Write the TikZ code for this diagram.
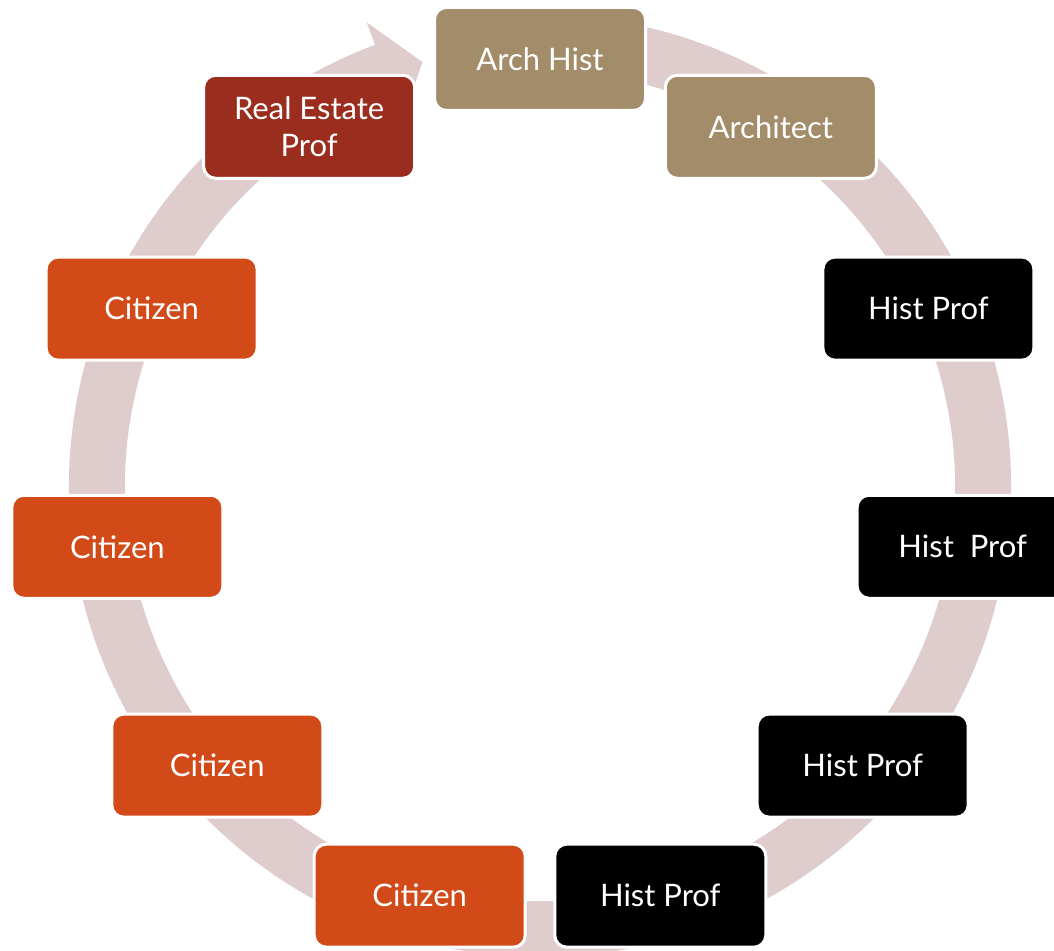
\documentclass[tikz,border=0pt]{standalone}
\usepackage{fontspec}
\setmainfont{Lato}
\definecolor{ringpink}{HTML}{DFCDCE}
\definecolor{archtan}{HTML}{A38C69}
\definecolor{estatered}{HTML}{9B2D1F}
\definecolor{citizenorange}{HTML}{D14A17}
\tikzset{
  stage/.style={rounded corners=12pt, draw=white, line width=3pt,
    minimum width=211pt, minimum height=103pt, inner sep=0pt,
    text=white, align=center, font=\fontsize{31}{37}\selectfont},
}
\begin{document}
\begin{tikzpicture}[x=1pt,y=1pt]
  % the frame
  \useasboundingbox (-540,-464) rectangle (514,486);
  % the ring
  \fill[ringpink] (80:471) arc[start angle=80, end angle=-249.5, radius=471]
    -- (110.5:495) -- (105.5:440) -- (110.5:391) -- (110.5:415)
    arc[start angle=110.5, end angle=440, radius=415] -- cycle;
  % the stages
  \foreach \i/\name/\txt/\col in {
      0/archhist/Arch Hist/archtan,
      1/architect/Architect/archtan,
      2/histA/Hist Prof/black,
      3/histB/Hist\ \ Prof/black,
      4/histC/Hist Prof/black,
      5/histD/Hist Prof/black,
      6/citA/Citizen/citizenorange,
      7/citB/Citizen/citizenorange,
      8/citC/Citizen/citizenorange,
      9/citD/Citizen/citizenorange,
      10/estate/{Real Estate\\Prof}/estatered} {
    \node[stage, fill=\col] (\name) at ({90-\i*360/11}:427) {\txt};
  };
\end{tikzpicture}
\end{document}
